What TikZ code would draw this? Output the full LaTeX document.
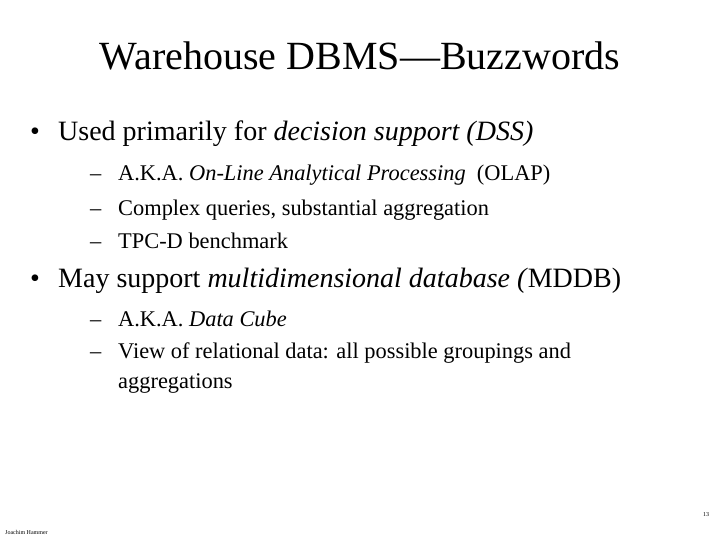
\documentclass[tikz,border=0pt]{standalone}
\usepackage{fontspec}
\setmainfont{Liberation Serif}
\begin{document}
\begin{tikzpicture}[x=1pt,y=-1pt,
  title/.style={anchor=base,font=\fontsize{40}{44}\selectfont,inner sep=0},
  lone/.style={anchor=base west,font=\fontsize{28}{32}\selectfont,inner sep=0},
  ltwo/.style={anchor=base west,font=\fontsize{22.4}{26}\selectfont,inner sep=0},
  tiny/.style={anchor=base west,font=\fontsize{6}{7}\selectfont,inner sep=0}]
\useasboundingbox (0,0) rectangle (720,540);
\node[title] (t) at (360,70) {Warehouse DBMS---Buzzwords};
\node[lone] (b1) at (30,141) {•};
\node[lone] (l1) at (58,141) {Used primarily for \textit{decision support (DSS)}};
\node[ltwo] (d1) at (90,181) {–};
\node[ltwo] (s1) at (118,181) {A.K.A. \textit{On-Line Analytical Processing}\ \ (OLAP)};
\node[ltwo] (d2) at (90,215) {–};
\node[ltwo] (s2) at (118,215) {Complex queries, substantial aggregation};
\node[ltwo] (d3) at (90,248) {–};
\node[ltwo] (s3) at (118,248) {TPC-D benchmark};
\node[lone] (b2) at (30,287) {•};
\node[lone] (l2) at (58,287) {May support \textit{multidimensional database (}MDDB)};
\node[ltwo] (d4) at (90,326) {–};
\node[ltwo] (s4) at (118,326) {A.K.A. \textit{Data Cube}};
\node[ltwo] (d5) at (90,358) {–};
\node[ltwo] (s5) at (118,358) {View of relational data: all possible groupings and};
\node[ltwo] (s6) at (118,388) {aggregations};
\node[tiny] (f1) at (5,534) {Joachim Hammer};
\node[tiny] (f2) at (703,516) {13};
\end{tikzpicture}
\end{document}
